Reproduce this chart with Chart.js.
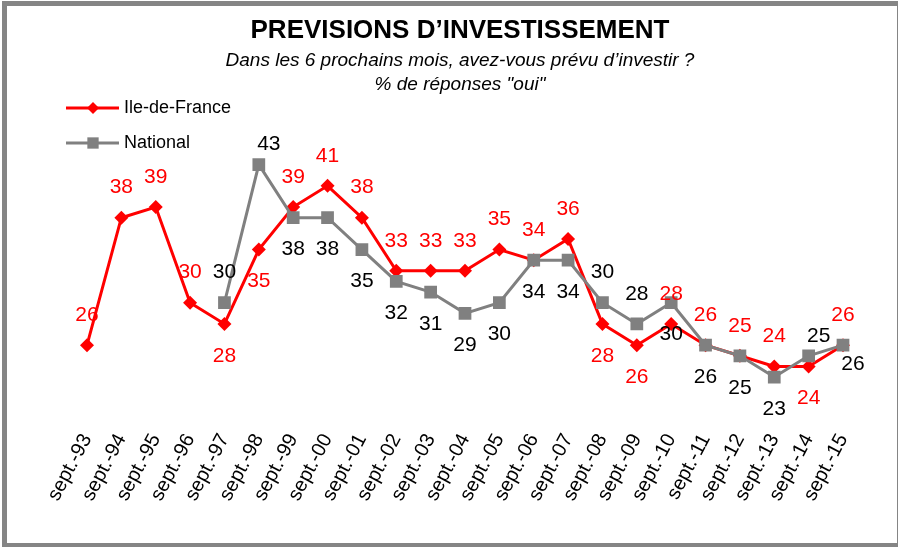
<!DOCTYPE html>
<html lang="fr">
<head>
<meta charset="utf-8">
<title>Prévisions d'investissement</title>
<script src="https://cdn.jsdelivr.net/npm/chart.js@4/dist/chart.umd.min.js"></script>
<style>
  html, body { margin: 0; padding: 0; background: #fff; }
  #wrap { position: relative; width: 899px; height: 547px; }
  #wrap canvas { position: absolute; left: 0; top: 0; }
  #frame {
    position: absolute; left: 2px; top: 1px; right: 1px; bottom: 0;
    border-left: 5px solid #858585; border-top: 5px solid #858585;
    border-bottom: 4px solid #858585; border-right: 1px solid #858585;
    pointer-events: none;
  }
</style>
</head>
<body>
<div id="wrap">
  <canvas id="investChart" width="899" height="547"></canvas>
  <div id="frame"></div>
</div>
<script>
// Survey waves, one per September
const years = ['sept.-93', 'sept.-94', 'sept.-95', 'sept.-96', 'sept.-97', 'sept.-98', 'sept.-99', 'sept.-00',
  'sept.-01', 'sept.-02', 'sept.-03', 'sept.-04', 'sept.-05', 'sept.-06', 'sept.-07', 'sept.-08',
  'sept.-09', 'sept.-10', 'sept.-11', 'sept.-12', 'sept.-13', 'sept.-14', 'sept.-15'];

// % "oui"
const idfValues = [26, 38, 39, 30, 28, 35, 39, 41, 38, 33, 33, 33, 35, 34, 36, 28, 26, 28, 26, 25, 24, 24, 26];
const nationalValues = [null, null, null, null, 30, 43, 38, 38, 35, 32, 31, 29, 30, 34, 34, 30, 28, 30, 26, 25, 23, 25, 26];

// where each value label sits relative to its point: a = above, b = below, ar / br = shifted right
const idfLabelSide = ['a', 'a', 'a', 'a', 'b', 'b', 'a', 'a', 'a', 'a', 'a', 'a', 'a', 'a', 'a', 'b', 'b', 'a', 'a', 'a', 'a', 'b', 'a'];
const nationalLabelSide = [null, null, null, null, 'a', 'ar', 'b', 'b', 'b', 'b', 'b', 'b', 'b', 'b', 'b', 'a', 'a', 'b', 'b', 'b', 'b', 'ar', 'br'];

const RED = '#FF0000';
const GREY = '#808080';
const FONT = "'Liberation Sans', Arial, sans-serif";

// numbers next to the markers
const valueLabels = {
  id: 'valueLabels',
  afterDatasetsDraw(chart) {
    const ctx = chart.ctx;
    const sides = [idfLabelSide, nationalLabelSide];
    const colors = [RED, '#000'];
    ctx.save();
    ctx.font = '21px ' + FONT;
    ctx.textAlign = 'center';
    ctx.textBaseline = 'middle';
    chart.data.datasets.forEach((ds, di) => {
      const meta = chart.getDatasetMeta(di);
      meta.data.forEach((pt, i) => {
        const v = ds.data[i];
        if (v == null) return;
        const side = sides[di][i];
        let dx = 0, dy = side[0] === 'a' ? -30 : 32;
        if (side === 'ar') { dx = 10; dy = -20; }
        if (side === 'br') { dx = 10; dy = 19; }
        ctx.fillStyle = colors[di];
        ctx.fillText(String(v), pt.x + dx, pt.y + dy);
      });
    });
    ctx.restore();
  }
};

// stacked legend in the top-left corner
const sideLegend = {
  id: 'sideLegend',
  afterDraw(chart) {
    const ctx = chart.ctx;
    const rows = [
      { text: 'Ile-de-France', color: RED, style: 'rectRot', radius: 6, y: 108 },
      { text: 'National', color: GREY, style: 'rect', radius: 8, y: 143 }
    ];
    ctx.save();
    rows.forEach(r => {
      ctx.strokeStyle = r.color;
      ctx.lineWidth = 3;
      ctx.beginPath();
      ctx.moveTo(66, r.y);
      ctx.lineTo(119, r.y);
      ctx.stroke();
      ctx.fillStyle = r.color;
      Chart.helpers.drawPoint(ctx, { pointStyle: r.style, radius: r.radius, borderWidth: 0 }, 93, r.y);
      ctx.fillStyle = '#000';
      ctx.font = '18px ' + FONT;
      ctx.textAlign = 'left';
      ctx.textBaseline = 'middle';
      ctx.fillText(r.text, 124, r.y);
    });
    ctx.restore();
  }
};

new Chart(document.getElementById('investChart'), {
  type: 'line',
  data: {
    labels: years,
    datasets: [
      {
        label: 'Ile-de-France',
        data: idfValues,
        borderColor: RED,
        backgroundColor: RED,
        borderWidth: 3,
        pointStyle: 'rectRot',
        pointRadius: 7,
        pointBorderWidth: 0,
        tension: 0,
        order: 2
      },
      {
        label: 'National',
        data: nationalValues,
        borderColor: GREY,
        backgroundColor: GREY,
        borderWidth: 3,
        pointStyle: 'rect',
        pointRadius: 9,
        pointBorderWidth: 0,
        tension: 0,
        order: 1
      }
    ]
  },
  options: {
    responsive: false,
    animation: false,
    layout: { padding: { left: 77, right: 56, top: 0, bottom: 29 } },
    plugins: {
      legend: { display: false },
      tooltip: { enabled: false },
      title: {
        display: true,
        text: 'PREVISIONS D\u2019INVESTISSEMENT',
        color: '#000',
        font: { family: FONT, size: 26, weight: 'bold', lineHeight: 1.2 },
        padding: { top: 15, bottom: 0 }
      },
      subtitle: {
        display: true,
        text: ['Dans les 6 prochains mois, avez-vous prévu d\u2019investir ?', '% de réponses "oui"'],
        color: '#000',
        font: { family: FONT, size: 19, style: 'italic', lineHeight: 1.28 },
        padding: { top: 2, bottom: 4 }
      }
    },
    scales: {
      x: {
        offset: false,
        grid: { display: false },
        border: { display: false },
        ticks: {
          color: '#000',
          font: { family: FONT, size: 20 },
          minRotation: 62,
          maxRotation: 62,
          autoSkip: false,
          padding: 13
        }
      },
      y: {
        min: 20,
        max: 49,
        grid: { display: false },
        border: { display: false },
        ticks: { display: false },
        afterFit(scale) { scale.width = 10; }
      }
    }
  },
  plugins: [valueLabels, sideLegend]
});
</script>
</body>
</html>
